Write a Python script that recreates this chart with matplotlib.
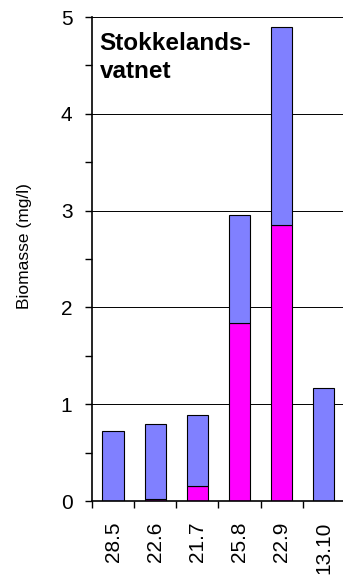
import matplotlib.pyplot as plt
import numpy as np

plt.rcParams['font.family'] = ['Liberation Sans', 'DejaVu Sans']

dates = ['28.5', '22.6', '21.7', '25.8', '22.9', '13.10']
magenta = [0.0, 0.02, 0.16, 1.84, 2.85, 0.0]
blue = [0.72, 0.78, 0.725, 1.11, 2.05, 1.17]

fig = plt.figure(figsize=(3.43, 5.77), dpi=100)
ax = fig.add_axes([0.268, 0.1317, 0.7376, 0.8388])

x = np.arange(len(dates))
ax.bar(x, magenta, width=0.5, color='#FF00FF', edgecolor='black', linewidth=0.8, zorder=2)
ax.bar(x, blue, width=0.5, bottom=magenta, color='#8080FF', edgecolor='black', linewidth=0.8, zorder=2)

ax.set_xlim(-0.5, len(dates) - 0.5)
ax.set_ylim(0, 5)

# y axis
ax.set_yticks([0, 1, 2, 3, 4, 5])
ax.set_yticks(np.arange(0.5, 5, 1), minor=True)
ax.tick_params(axis='y', which='both', direction='out', length=5, width=1, labelsize=15, pad=9)
ax.grid(axis='y', which='major', color='black', linewidth=0.7)
ax.set_axisbelow(True)

# x axis: labels at bar centers, tick marks between categories
ax.set_xticks(x)
ax.set_xticklabels(dates, rotation=90)
ax.set_xticks(np.arange(-0.5, len(dates), 1), minor=True)
ax.tick_params(axis='x', which='major', length=0, labelsize=15, pad=15)
ax.tick_params(axis='x', which='minor', direction='out', length=5, width=1)

for s in ['top', 'right']:
    ax.spines[s].set_visible(False)
for s in ['left', 'bottom']:
    ax.spines[s].set_linewidth(1.2)

ax.set_ylabel('Biomasse (mg/l)', fontsize=12.5)
ax.yaxis.set_label_coords(-0.235, 0.527)

ax.text(0.03, 0.97, 'Stokkelands-\nvatnet', transform=ax.transAxes,
        fontsize=17.5, fontweight='bold', va='top', ha='left', linespacing=1.3)

fig.savefig('out.png', dpi=100)
